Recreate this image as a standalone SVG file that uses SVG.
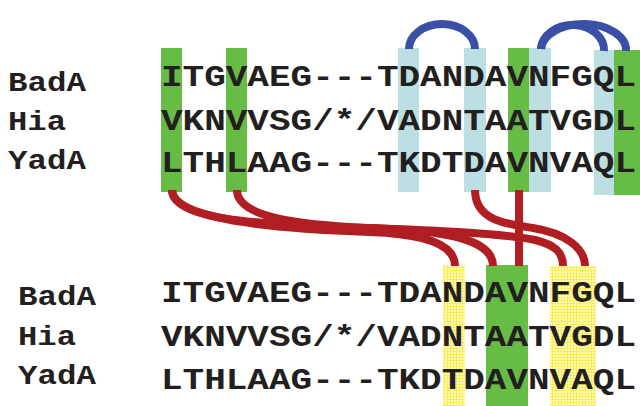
<svg xmlns="http://www.w3.org/2000/svg" width="640" height="406" viewBox="0 0 640 406">
  <defs>
    <pattern id="mesh" width="3" height="3" patternUnits="userSpaceOnUse">
      <rect width="3" height="3" fill="#fffab8"/>
      <path d="M0,0.4H3M0.4,0V3" stroke="#f6ea3c" stroke-width="0.8"/>
    </pattern>
  </defs>
  <style>
    .green { fill: #67bc46; }
    .cyan { fill: #bcdfe3; }
    .yellow { fill: url(#mesh); }
    .lbl { font-family: "Liberation Mono", "DejaVu Sans Mono", monospace; font-weight: bold; font-size: 27px; fill: #231f20; }
    .seq { font-family: "Liberation Mono", "DejaVu Sans Mono", monospace; font-weight: bold; font-size: 29px; fill: #231f20; }
    .loop { fill: none; stroke: #3a4fa5; stroke-width: 8; }
    .link { fill: none; stroke: #b01e23; stroke-width: 8; }
  </style>

  <!-- upper alignment: highlighted columns -->
  <g id="upper-col-0"><rect class="green" x="161" y="48" width="21" height="144"/></g>
  <g id="upper-col-3"><rect class="green" x="226" y="48" width="21" height="144"/></g>
  <g id="upper-col-11"><rect class="cyan" x="398" y="48" width="21" height="144"/></g>
  <g id="upper-col-14"><rect class="cyan" x="464" y="48" width="22" height="144"/></g>
  <g id="upper-col-16"><rect class="green" x="508" y="48" width="21" height="144"/></g>
  <g id="upper-col-17"><rect class="cyan" x="529" y="48" width="22" height="144"/></g>
  <g id="upper-col-20"><rect class="cyan" x="594" y="50" width="20" height="145"/></g>
  <g id="upper-col-21"><rect class="green" x="614" y="50" width="26" height="145"/></g>

  <!-- lower alignment: highlighted columns -->
  <g id="lower-col-13"><rect class="yellow" x="443" y="265" width="22" height="141"/></g>
  <g id="lower-col-15-16"><rect class="green" x="486" y="265" width="42" height="141"/></g>
  <g id="lower-col-18-19"><rect class="yellow" x="550" y="266" width="46" height="140"/></g>

  <!-- upper alignment text -->
  <g id="upper-labels">
    <text class="lbl" x="8" y="91" textLength="78" lengthAdjust="spacingAndGlyphs">BadA</text>
    <text class="lbl" x="8" y="130" textLength="58" lengthAdjust="spacingAndGlyphs">Hia</text>
    <text class="lbl" x="8" y="169" textLength="78" lengthAdjust="spacingAndGlyphs">YadA</text>
  </g>
  <g id="upper-seqs">
    <text class="seq" x="161" y="86" textLength="475" lengthAdjust="spacingAndGlyphs">ITGVAEG---TDANDAVNFGQL</text>
    <text class="seq" x="161" y="129.5" textLength="475" lengthAdjust="spacingAndGlyphs">VKNVVSG/*/VADNTAATVGDL</text>
    <text class="seq" x="161" y="172" textLength="475" lengthAdjust="spacingAndGlyphs">LTHLAAG---TKDTDAVNVAQL</text>
  </g>

  <!-- lower alignment text -->
  <g id="lower-labels">
    <text class="lbl" x="18" y="305" textLength="78" lengthAdjust="spacingAndGlyphs">BadA</text>
    <text class="lbl" x="18" y="345" textLength="58" lengthAdjust="spacingAndGlyphs">Hia</text>
    <text class="lbl" x="18" y="384" textLength="78" lengthAdjust="spacingAndGlyphs">YadA</text>
  </g>
  <g id="lower-seqs">
    <text class="seq" x="161" y="302" textLength="475" lengthAdjust="spacingAndGlyphs">ITGVAEG---TDANDAVNFGQL</text>
    <text class="seq" x="161" y="345.5" textLength="475" lengthAdjust="spacingAndGlyphs">VKNVVSG/*/VADNTAATVGDL</text>
    <text class="seq" x="161" y="389" textLength="475" lengthAdjust="spacingAndGlyphs">LTHLAAG---TKDTDAVNVAQL</text>
  </g>

  <g id="connectors">
    <!-- loops between upper columns -->
    <path class="loop" d="M409,49 A33,25 0 0 1 475,49"/>
    <path class="loop" d="M541,49 A31.5,25 0 0 1 604,51"/>
    <path class="loop" d="M541,49 A42.5,26 0 0 1 626,51"/>
    <!-- links from upper columns to lower columns -->
    <path class="link" d="M172,190 C172,220 260,224 340,227 C430,230 500,233 535,240 C555,245 563,252 563,266"/>
    <path class="link" d="M172,190 C174,222 290,229 370,232 C425,234 455,244 455,266"/>
    <path class="link" d="M237,190 C237,220 310,226 390,229 C455,232 493,242 493,266"/>
    <path class="link" d="M475,190 C475,220 505,224 533,228 C565,233 585,248 585,266"/>
    <path class="link" d="M519,190 L519,266"/>
  </g>
</svg>
